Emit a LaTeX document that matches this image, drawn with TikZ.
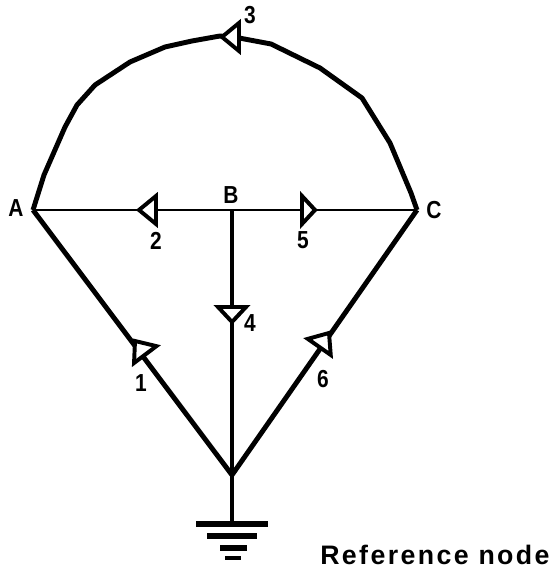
\documentclass[tikz,border=0pt]{standalone}
\usepackage{fontspec}
\setmainfont[FakeStretch=0.85]{Liberation Sans}
\newfontfamily\reffont[LetterSpace=9]{Liberation Sans}
\usepackage{tikz}

\tikzset{
  wire/.style={line width=3.5pt, line join=round},
  thinwire/.style={line width=1.5pt},
  bar/.style={line width=#1},
  etiq/.style={font=\fontsize{17.5}{19}\selectfont\bfseries, inner sep=0pt}
}

\newcommand{\flowmark}[3]{
\begin{scope}[shift={#1}, rotate=#2]
\draw[fill=white, line width=2.8pt] (0,0) -- (-#3,14) -- (-#3,-14) -- cycle;
\end{scope}
}

\begin{document}
\begin{tikzpicture}[x=0.025cm, y=0.025cm]
\useasboundingbox (0,0) rectangle (552,569);

% Nudos
\coordinate (nodeA) at (33,359);
\coordinate (nodeB) at (232,359);
\coordinate (nodeC) at (417,359);
\coordinate (nodeG) at (232,94);
\coordinate (ground) at (232,45);

% Ramas
\draw[wire] (nodeA) -- (44,394) -- (65,442) -- (77,464) -- (95,484) -- (130,507)
  -- (165,522) -- (192,528) -- (220,533) -- (239,531) -- (271,525) -- (320,501)
  -- (362,471) -- (390,426) -- (411,376) -- (nodeC);
\draw[thinwire] (nodeA) -- (nodeC);
\draw[wire] (nodeB) -- (nodeG);
\draw[wire] (nodeA) -- (nodeG);
\draw[wire] (nodeC) -- (nodeG);
\draw[wire] (nodeG) -- (ground);

% Tierra
\draw[bar=4.2pt] (196,45) -- (268,45);
\draw[bar=4.2pt] (207,33) -- (257,33);
\draw[bar=3.6pt] (220,21) -- (247,21);
\draw[bar=2.2pt] (225,11) -- (241,11);

% Flechas
\flowmark{(222,532)}{180}{17}
\flowmark{(139,359)}{180}{17}
\flowmark{(315,359)}{0}{13}
\flowmark{(232,247)}{-90}{15}
\flowmark{(135,228)}{127}{17}
\flowmark{(329,236)}{55}{17}

% Etiquetas
\node[etiq] (labelA) at (16,361) {A};
\node[etiq] (labelB) at (231,374) {B};
\node[etiq] (labelC) at (434,359) {C};
\node[etiq] (num1) at (141,186) {1};
\node[etiq] (num2) at (156,328) {2};
\node[etiq] (num3) at (250,554) {3};
\node[etiq] (num4) at (250,246) {4};
\node[etiq] (num5) at (303,329) {5};
\node[etiq] (num6) at (323,190) {6};
\node[inner sep=0pt, anchor=west, font=\reffont\fontsize{19}{21}\selectfont\bfseries] (refnode) at (320,14) {Reference node};

\end{tikzpicture}
\end{document}
